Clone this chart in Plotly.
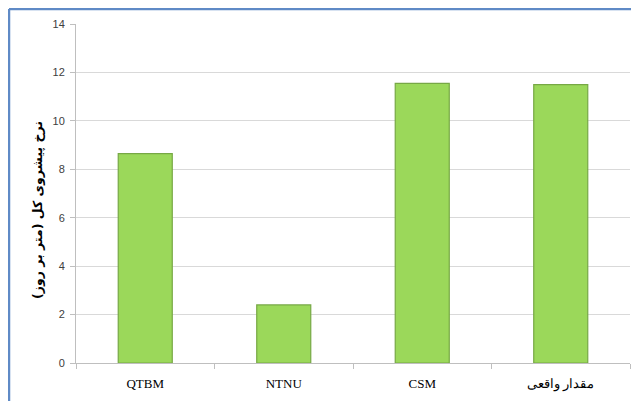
import plotly.graph_objects as go

# Daten
methoden = ["QTBM", "NTNU", "CSM", "مقدار واقعی"]
vorschub = [8.65, 2.4, 11.55, 11.5]
y_ticks = [0, 2, 4, 6, 8, 10, 12, 14]
y_titel = "<b>نرخ پیشروی کل (متر بر روز)</b>"

# Seite hat 8px Rand, daher Figur etwas kleiner
W, H = 631, 393
L, R, T, B = 68, 9, 16, 38

fig = go.Figure()
fig.add_bar(
    x=methoden,
    y=vorschub,
    marker=dict(color="#9bd85a", line=dict(color="#77a845", width=1.2)),
)

fig.update_layout(
    width=W,
    height=H,
    margin=dict(l=L, r=R, t=T, b=B),
    paper_bgcolor="white",
    plot_bgcolor="white",
    bargap=0.61,
    showlegend=False,
    font=dict(family="Liberation Sans, Arial, sans-serif", size=11, color="#404040"),
)

fig.update_yaxes(
    range=[0, 14],
    tickvals=y_ticks,
    showgrid=True,
    gridcolor="#d9d9d9",
    gridwidth=1,
    showline=True,
    linecolor="#bfbfbf",
    linewidth=1,
    ticks="outside",
    ticklen=5,
    tickcolor="#bfbfbf",
    ticklabelstandoff=3,
    zeroline=False,
    tickfont=dict(size=11, color="#404040"),
)

fig.update_xaxes(
    showline=True,
    linecolor="#bfbfbf",
    linewidth=1,
    ticks="outside",
    tickson="boundaries",
    ticklen=5,
    tickcolor="#bfbfbf",
    ticklabelstandoff=8,
    tickfont=dict(family="Liberation Serif, Times New Roman, serif", size=13, color="#000000"),
)

# Pixel -> Papierkoordinaten
def px_x(p):
    return (p - L) / (W - L - R)

def px_y(p):
    return (H - B - p) / (H - T - B)

# Achsentitel als Annotation, etwas tiefer als die Mitte
fig.add_annotation(
    text=y_titel, textangle=-90, showarrow=False,
    xref="paper", yref="paper", x=px_x(29), y=px_y(202),
    xanchor="center", yanchor="middle",
    font=dict(family="DejaVu Sans, sans-serif", size=12.5, color="#000000"),
)

# Rahmen oben und links (rechts und unten abgeschnitten)
rahmen = dict(color="#5f8ac6", width=2.5)
fig.add_shape(type="line", xref="paper", yref="paper",
              x0=px_x(1), y0=px_y(1), x1=px_x(W + 5), y1=px_y(1), line=rahmen)
fig.add_shape(type="line", xref="paper", yref="paper",
              x0=px_x(1), y0=px_y(1), x1=px_x(1), y1=px_y(H + 5), line=rahmen)

fig.write_html("out.html")
